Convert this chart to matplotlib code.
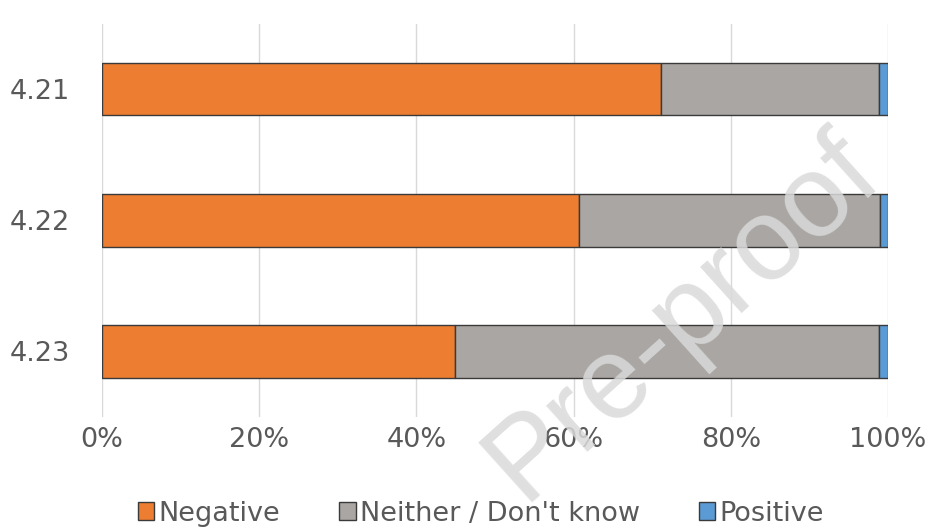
import matplotlib.pyplot as plt
import numpy as np

plt.rcParams['font.family'] = ['DejaVu Sans']

categories = ['4.21', '4.22', '4.23']
negative = [71.1, 60.7, 44.9]
neither = [27.8, 38.3, 54.0]
positive = [1.1, 1.0, 1.1]
series_names = ['Negative', 'Neither / Don\'t know', 'Positive']
colors = ['#ED7D31', '#A9A6A3', '#5B9BD5']
xticks = [0, 20, 40, 60, 80, 100]

fig = plt.figure(figsize=(9.32, 5.32), dpi=100)
ax = fig.add_axes([0.1094, 0.216, 0.8434, 0.7398])

y = np.arange(len(categories))
left = np.zeros(len(categories))
for vals, name, c in zip([negative, neither, positive], series_names, colors):
    ax.barh(y, vals, left=left, height=0.4, color=c, edgecolor='#3a3a3a',
            linewidth=1.0, label=name, zorder=3)
    left = left + np.array(vals)

ax.set_ylim(len(categories) - 0.5, -0.5)
ax.set_xlim(0, 100)
ax.set_yticks(y)
ax.set_yticklabels(categories)
ax.set_xticks(xticks)
ax.set_xticklabels(['{}%'.format(t) for t in xticks])
ax.grid(axis='x', color='#D9D9D9', linewidth=1.0, zorder=0)
for s in ax.spines.values():
    s.set_visible(False)
ax.tick_params(axis='both', length=0, labelsize=19.5, colors='#595959')
ax.tick_params(axis='y', pad=23)
ax.tick_params(axis='x', pad=7)

ax.legend(loc='center', bbox_to_anchor=(0.482, -0.245), ncol=3, frameon=False,
          fontsize=19.5, handlelength=0.6, handleheight=0.6, handletextpad=0.15,
          columnspacing=2.2, labelcolor='#595959')

# watermark
fig.text(0.732, 0.405, 'Pre-proof', fontsize=84, color='#DADADA', alpha=0.85,
         family='Liberation Sans', rotation=42, ha='center', va='center', zorder=10)

plt.savefig('out.png')
